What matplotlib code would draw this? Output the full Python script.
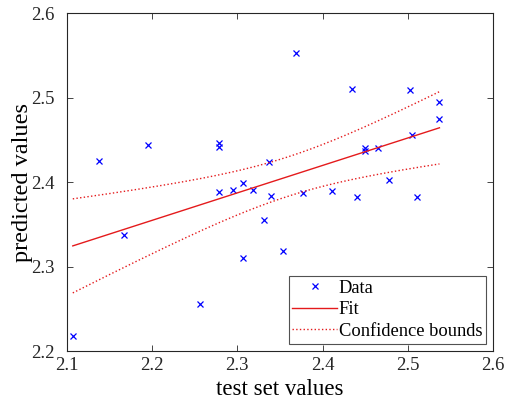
import numpy as np
import matplotlib
matplotlib.use("Agg")
import matplotlib.pyplot as plt

# test set values vs predicted values
test_vals = [2.107, 2.138, 2.167, 2.195, 2.256, 2.279, 2.279, 2.279, 2.295, 2.307,
             2.307, 2.318, 2.331, 2.337, 2.339, 2.354, 2.369, 2.377, 2.411, 2.435,
             2.440, 2.450, 2.450, 2.465, 2.478, 2.503, 2.505, 2.511, 2.536, 2.537]
pred_vals = [2.218, 2.425, 2.337, 2.444, 2.256, 2.446, 2.442, 2.388, 2.391, 2.399,
             2.310, 2.391, 2.355, 2.424, 2.384, 2.318, 2.553, 2.387, 2.389, 2.510,
             2.382, 2.440, 2.437, 2.440, 2.402, 2.509, 2.456, 2.382, 2.495, 2.474]
x_ticks = [2.1, 2.2, 2.3, 2.4, 2.5, 2.6]
y_ticks = [2.2, 2.3, 2.4, 2.5, 2.6]
t_crit = 2.048  # 95% t value, 28 dof

x = np.array(test_vals)
y = np.array(pred_vals)

# linear fit + confidence bounds on the fitted line
slope, icpt = np.polyfit(x, y, 1)
xf = np.linspace(x.min(), x.max(), 200)
yf = slope * xf + icpt
resid = y - (slope * x + icpt)
s = np.sqrt(np.sum(resid ** 2) / (len(x) - 2))
sxx = np.sum((x - x.mean()) ** 2)
half = t_crit * s * np.sqrt(1 / len(x) + (xf - x.mean()) ** 2 / sxx)

plt.rcParams['font.family'] = ['Liberation Serif', 'DejaVu Serif']

fig = plt.figure(figsize=(5.1, 4.0), dpi=100)
ax = fig.add_axes([0.131, 0.1225, 0.836, 0.845])

ax.plot(x, y, 'x', color='#0000ff', markersize=5, markeredgewidth=0.9, label='Data')
ax.plot(xf, yf, '-', color='#e41a1c', linewidth=1.0, label='Fit')
ax.plot(xf, yf + half, ':', color='#e41a1c', linewidth=1.0, label='Confidence bounds')
ax.plot(xf, yf - half, ':', color='#e41a1c', linewidth=1.0)

ax.set_xlim(2.1, 2.6)
ax.set_ylim(2.2, 2.6)
ax.set_xticks(x_ticks)
ax.set_yticks(y_ticks)
ax.set_xticklabels([f'{v:.1f}' for v in x_ticks])
ax.set_yticklabels([f'{v:.1f}' for v in y_ticks])
ax.tick_params(direction='in', length=4, width=0.6, top=True, right=True,
               labelsize=13.5, colors='#262626')
ax.tick_params(axis='x', pad=4)
ax.tick_params(axis='y', pad=9)
for sp in ax.spines.values():
    sp.set_color('#262626')
    sp.set_linewidth(0.8)

ax.set_xlabel('test set values', fontsize=16.5)
ax.xaxis.set_label_coords(0.5, -0.083)
ax.set_ylabel('predicted values', fontsize=17.5)
ax.yaxis.set_label_coords(-0.08, 0.5)

leg = ax.legend(loc='lower right', fontsize=13.3, frameon=True, fancybox=False,
                edgecolor='#262626', borderpad=0.2, labelspacing=0.25,
                handlelength=2.4, handletextpad=0.1, borderaxespad=0.4)
leg.get_frame().set_linewidth(0.8)

fig.savefig('out.png', dpi=100)
